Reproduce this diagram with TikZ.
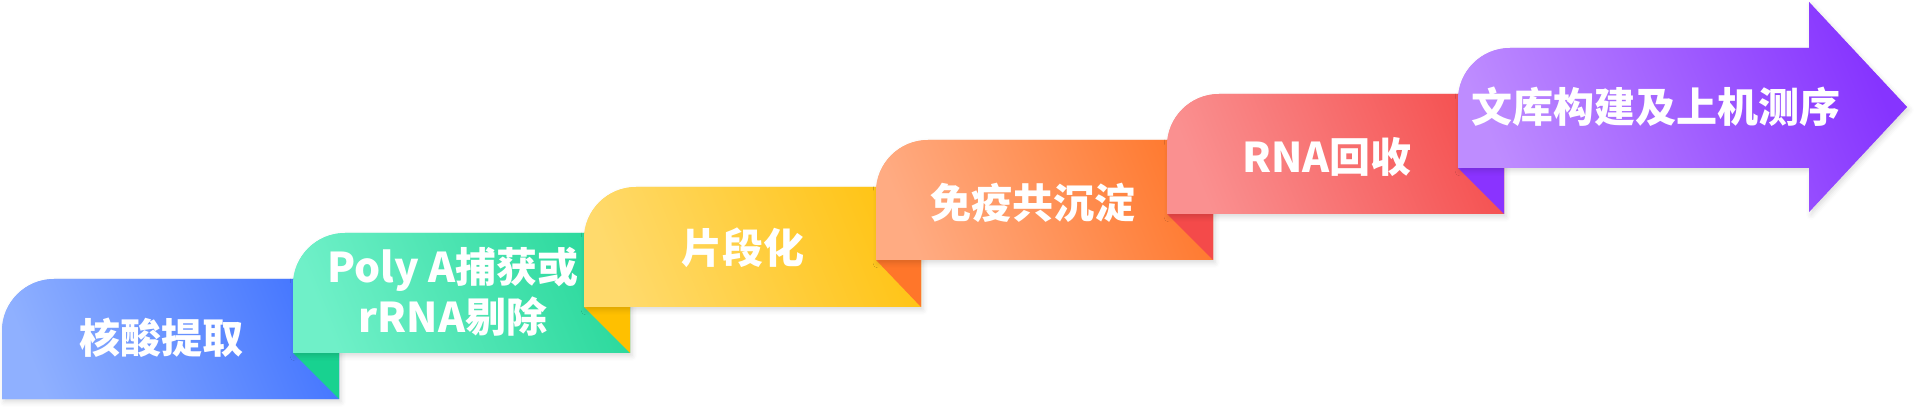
\documentclass[tikz,border=0pt]{standalone}
\usepackage{fontspec}
\usepackage{tikz}
\usetikzlibrary{shadows.blur}
\newfontfamily\cjk{Noto Sans CJK SC}
\definecolor{blueA}{HTML}{8FB0FF}
\definecolor{blueB}{HTML}{4677FF}
\definecolor{greenA}{HTML}{6FF0C8}
\definecolor{greenB}{HTML}{2CD99D}
\definecolor{greenF}{HTML}{18D290}
\definecolor{yellowA}{HTML}{FFDA6C}
\definecolor{yellowB}{HTML}{FFC416}
\definecolor{yellowF}{HTML}{FFC000}
\definecolor{orangeA}{HTML}{FFAB82}
\definecolor{orangeB}{HTML}{FF7A30}
\definecolor{orangeF}{HTML}{FF762A}
\definecolor{redA}{HTML}{FA9090}
\definecolor{redB}{HTML}{F55252}
\definecolor{redF}{HTML}{F44A4A}
\definecolor{purpleA}{HTML}{BE8CFF}
\definecolor{purpleB}{HTML}{8634FF}
\definecolor{purpleF}{HTML}{8A33FF}

\begin{document}
\begin{tikzpicture}[x=0.5pt, y=0.5pt,
	steptext/.style={text=white, font=\cjk\bfseries\fontsize{20.5}{25}\selectfont, align=center, inner sep=0pt},
	stepfill/.style 2 args={left color=#1, right color=#2, shading angle=112,
		blur shadow={shadow xshift=1pt, shadow yshift=-1.5pt, shadow blur radius=2.5pt, shadow opacity=14, fill=#1}}]
		\useasboundingbox (0,0) rectangle (1920,412);
		\shade[stepfill={blueA}{blueB}] (2,13) -- (2,81) arc[start angle=180, end angle=90, radius=52] -- (339,133) -- (339,13) -- cycle;
		\fill[greenF] (293,59) -- (339,59) -- (339,13) -- cycle;
		\shade[stepfill={greenA}{greenB}] (293,59) -- (293,127) arc[start angle=180, end angle=90, radius=52] -- (630,179) -- (630,59) -- cycle;
		\fill[yellowF] (584,105) -- (630,105) -- (630,59) -- cycle;
		\shade[stepfill={yellowA}{yellowB}] (584,105) -- (584,173) arc[start angle=180, end angle=90, radius=52] -- (921,225) -- (921,105) -- cycle;
		\fill[orangeF] (876,152) -- (921,152) -- (921,105) -- cycle;
		\shade[stepfill={orangeA}{orangeB}] (876,152) -- (876,220) arc[start angle=180, end angle=90, radius=52] -- (1213,272) -- (1213,152) -- cycle;
		\fill[redF] (1167,198) -- (1213,198) -- (1213,152) -- cycle;
		\shade[stepfill={redA}{redB}] (1167,198) -- (1167,266) arc[start angle=180, end angle=90, radius=52] -- (1504,318) -- (1504,198) -- cycle;
		\fill[purpleF] (1458,244) -- (1504,244) -- (1504,198) -- cycle;
		\shade[stepfill={purpleA}{purpleB}] (1458,244) -- (1458,312) arc[start angle=180, end angle=90, radius=52] -- (1809,364) -- (1809,410) -- (1907,305) -- (1809,200) -- (1809,244) -- cycle;
		\node[steptext] (extract) at (161,74) {核酸提取};
		\node[steptext] (capture) at (453,120) {Poly A捕获或\\rRNA剔除};
		\node[steptext] (fragment) at (743,164) {片段化};
		\node[steptext] (chip) at (1033,209) {免疫共沉淀};
		\node[steptext] (recover) at (1327,255) {RNA回收};
		\node[steptext] (seq) at (1656,305) {文库构建及上机测序};
	\end{tikzpicture}
\end{document}
